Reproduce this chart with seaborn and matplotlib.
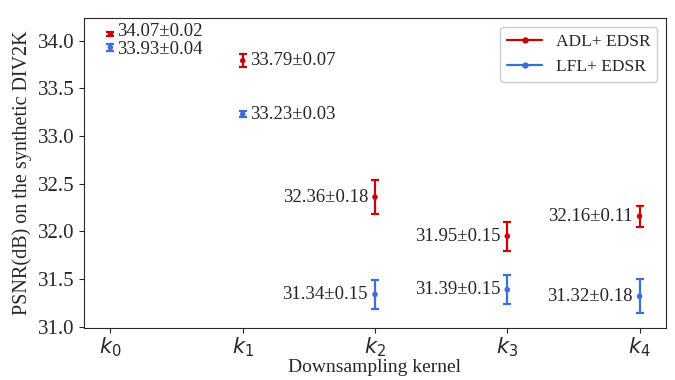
import matplotlib
matplotlib.use("Agg")
import matplotlib.pyplot as plt
import seaborn as sns
import pandas as pd
from matplotlib.lines import Line2D

kernels = ["$k_0$", "$k_1$", "$k_2$", "$k_3$", "$k_4$"]
adl_mean = [34.07, 33.79, 32.36, 31.95, 32.16]
adl_std = [0.02, 0.07, 0.18, 0.15, 0.11]
lfl_mean = [33.93, 33.23, 31.34, 31.39, 31.32]
lfl_std = [0.04, 0.03, 0.15, 0.15, 0.18]
series_names = ["ADL+ EDSR", "LFL+ EDSR"]
yticks = [31.0, 31.5, 32.0, 32.5, 33.0, 33.5, 34.0]

red = "#cc0000"
blue = "#3b6fd6"

sns.set_style("ticks")
plt.rcParams["font.family"] = ["Liberation Serif", "DejaVu Serif"]
plt.rcParams["mathtext.fontset"] = "dejavusans"

fig, ax = plt.subplots(figsize=(6.75, 3.8), dpi=100)
fig.subplots_adjust(left=0.1244, right=0.9867, top=0.9526, bottom=0.138)

x = list(range(len(kernels)))
df = pd.DataFrame({
    "x": x * 2,
    "psnr": adl_mean + lfl_mean,
    "series": [series_names[0]] * 5 + [series_names[1]] * 5,
})
sns.scatterplot(data=df, x="x", y="psnr", hue="series", palette=[red, blue],
                s=16, edgecolor="none", ax=ax, legend=False, zorder=3)
ax.errorbar(x, adl_mean, yerr=adl_std, fmt="none", ecolor=red, elinewidth=1.6, capsize=3.2, capthick=1.6)
ax.errorbar(x, lfl_mean, yerr=lfl_std, fmt="none", ecolor=blue, elinewidth=1.6, capsize=3.2, capthick=1.6)

for i in x:
    for j, (m, s) in enumerate(((adl_mean[i], adl_std[i]), (lfl_mean[i], lfl_std[i]))):
        label = f"{m:.2f}±{s:.2f}"
        if i < 2:
            dy = 1.5 if (i == 0 and j == 0) else (-1.5 if i == 0 else 0)
            ax.annotate(label, (i, m), xytext=(5, dy), textcoords="offset points",
                        ha="left", va="center", fontsize=13.5)
        else:
            ax.annotate(label, (i, m), xytext=(-5, 0), textcoords="offset points",
                        ha="right", va="center", fontsize=13.5)

ax.margins(x=0.05, y=0.05)
ax.set_xticks(x)
ax.set_xticklabels(kernels, fontsize=15)
ax.set_yticks(yticks)
ax.set_yticklabels([f"{t:.1f}" for t in yticks], fontsize=15)
ax.tick_params(axis="both", length=3.5)
ax.tick_params(axis="x", pad=2)
ax.set_xlabel("Downsampling kernel", fontsize=14, labelpad=0)
ax.set_ylabel("PSNR(dB) on the synthetic DIV2K", fontsize=14.5, labelpad=4)

handles = [Line2D([0], [0], color=red, marker="o", markersize=3.5, lw=1.6),
           Line2D([0], [0], color=blue, marker="o", markersize=3.5, lw=1.6)]
ax.legend(handles, series_names, loc="upper right", fontsize=12.5, frameon=True,
          fancybox=True, framealpha=1, edgecolor="#cccccc")

fig.savefig("out.png", dpi=100)
